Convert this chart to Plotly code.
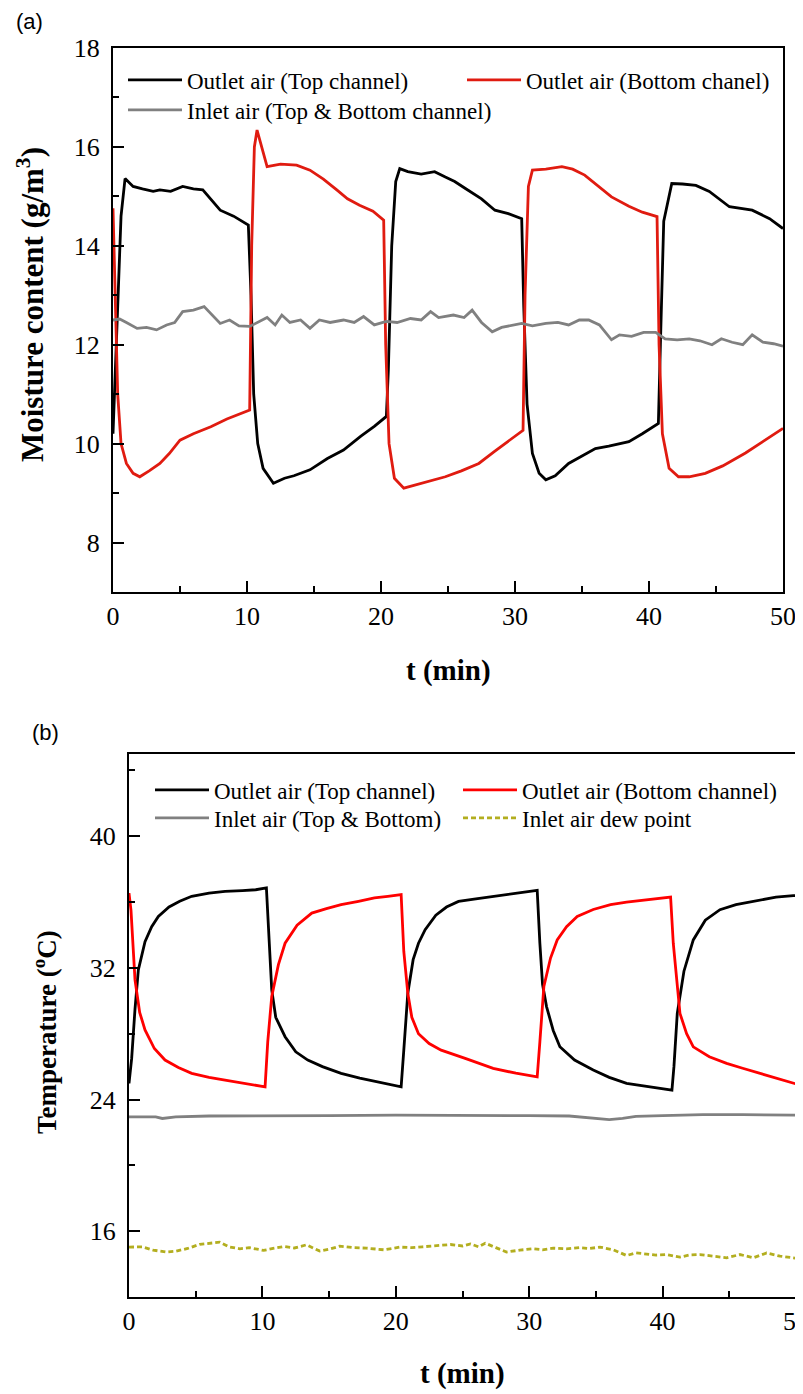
import plotly.graph_objects as go

# ---------------- Panel (a): moisture content ----------------
t_top_a = [0, 0.3, 0.6, 0.9, 1.5, 2.2, 3, 3.5, 4.3, 5.2, 6, 6.7, 7.3, 8, 9, 10.1,
           10.3, 10.5, 10.8, 11.2, 11.97, 12.8, 13.5, 14.7, 16, 17.2, 18.5, 19.5, 20.4,
           20.55, 20.8, 21.1, 21.4, 22, 23, 24, 24.8, 25.5, 26.3, 27.5, 28.5, 29.5, 30.5,
           30.65, 30.9, 31.3, 31.8, 32.3, 33, 34, 35, 36, 37, 38.5, 39.5, 40.7,
           40.85, 41.1, 41.7, 42.5, 43.5, 44.5, 46, 47, 47.7, 49, 50]
mc_top = [10.2, 12.5, 14.6, 15.36, 15.2, 15.15, 15.1, 15.13, 15.1, 15.2, 15.15, 15.13, 14.95, 14.72, 14.6, 14.42,
          13.0, 11.0, 10.0, 9.5, 9.2, 9.3, 9.35, 9.47, 9.7, 9.87, 10.15, 10.35, 10.55,
          11.5, 14.0, 15.3, 15.56, 15.5, 15.45, 15.5, 15.39, 15.3, 15.16, 14.95, 14.72, 14.65, 14.55,
          12.8, 10.8, 9.8, 9.4, 9.27, 9.35, 9.6, 9.75, 9.9, 9.95, 10.04, 10.2, 10.41,
          12.0, 14.5, 15.26, 15.25, 15.22, 15.1, 14.79, 14.75, 14.72, 14.55, 14.35]

t_bot_a = [0, 0.15, 0.35, 0.6, 1.0, 1.5, 2.0, 2.7, 3.5, 4.2, 5, 6, 7.3, 8.5, 10.2,
           10.35, 10.55, 10.75, 11.0, 11.5, 12.5, 13.7, 14.7, 15.7, 16.7, 17.5, 18.4, 19.4, 20.2,
           20.35, 20.6, 21.0, 21.7, 23, 24.8, 26, 27.3, 28.5, 29.8, 30.6,
           30.75, 31.0, 31.3, 32.3, 33.5, 34.3, 35.2, 36.2, 37.2, 38.5, 39.5, 40.6,
           40.75, 41.0, 41.5, 42.2, 43, 44.2, 45.5, 47.2, 48.5, 50]
mc_bot = [14.76, 13.0, 11.0, 10.0, 9.6, 9.4, 9.33, 9.45, 9.6, 9.8, 10.07, 10.2, 10.34, 10.5, 10.68,
          14.0, 16.0, 16.34, 16.1, 15.6, 15.65, 15.63, 15.53, 15.35, 15.13, 14.95, 14.82, 14.7, 14.52,
          12.0, 10.0, 9.3, 9.1, 9.2, 9.33, 9.45, 9.6, 9.85, 10.1, 10.27,
          13.0, 15.2, 15.53, 15.55, 15.6, 15.55, 15.43, 15.2, 14.99, 14.8, 14.68, 14.59,
          12.0, 10.2, 9.5, 9.33, 9.33, 9.4, 9.55, 9.81, 10.05, 10.31]

t_in_a = [0, 0.5, 1, 1.8, 2.5, 3.25, 4, 4.6, 5.2, 6, 6.8, 7.4, 8, 8.7, 9.4, 10.2, 10.8, 11.5, 12.1,
          12.6, 13.2, 14, 14.7, 15.4, 16.2, 17.2, 18, 18.7, 19.5, 20.4, 21.2, 22.2, 23, 23.7, 24.3,
          25.4, 26.2, 26.8, 27.5, 28.3, 29, 29.8, 30.5, 31.3, 32.3, 33.2, 34, 34.8, 35.5, 36.3, 37.2,
          37.8, 38.7, 39.6, 40.5, 41.2, 42.1, 43, 43.8, 44.7, 45.4, 46.2, 47, 47.7, 48.5, 49.3, 50]
mc_in = [12.5, 12.52, 12.45, 12.33, 12.35, 12.3, 12.4, 12.45, 12.67, 12.7, 12.77, 12.6, 12.43, 12.5, 12.38,
         12.37, 12.45, 12.55, 12.4, 12.6, 12.45, 12.5, 12.33, 12.5, 12.45, 12.5, 12.45, 12.57, 12.4, 12.47,
         12.45, 12.53, 12.5, 12.67, 12.55, 12.6, 12.55, 12.7, 12.45, 12.26, 12.35, 12.4, 12.43, 12.38, 12.43,
         12.45, 12.4, 12.5, 12.5, 12.4, 12.1, 12.2, 12.17, 12.25, 12.25, 12.12, 12.1, 12.12, 12.08, 12.0,
         12.12, 12.05, 12.0, 12.2, 12.05, 12.02, 11.97]

# ---------------- Panel (b): temperature ----------------
t_top_b = [0, 0.2, 0.45, 0.7, 1.2, 1.7, 2.2, 3, 3.8, 4.7, 6, 7.2, 8.5, 9.5, 10.3,
           10.5, 10.7, 11.0, 11.7, 12.5, 13.4, 14.5, 15.9, 17.3, 18.7, 19.6, 20.4,
           20.6, 20.9, 21.3, 21.7, 22.2, 23, 23.8, 24.7, 26, 27.3, 28.5, 29.5, 30.6,
           30.8, 31.0, 31.3, 31.8, 32.3, 33.4, 34.8, 36, 37.3, 38.8, 40.7,
           40.85, 41.1, 41.6, 42.3, 43.2, 44.3, 45.5, 47.3, 48.5, 49.8, 50]
temp_top = [24.98, 26.5, 29.5, 31.88, 33.6, 34.5, 35.13, 35.7, 36.05, 36.35, 36.55, 36.65, 36.7, 36.75, 36.86,
            33.5, 30.66, 29.0, 27.82, 26.9, 26.4, 26.0, 25.59, 25.3, 25.08, 24.9, 24.77,
            27.0, 30.46, 32.5, 33.5, 34.32, 35.2, 35.7, 36.04, 36.2, 36.35, 36.5, 36.6, 36.71,
            33.5, 31.0, 29.65, 28.2, 27.21, 26.4, 25.79, 25.35, 24.98, 24.8, 24.57,
            26.0, 29.24, 31.8, 33.7, 34.9, 35.54, 35.85, 36.14, 36.3, 36.39, 36.4]

t_bot_b = [0, 0.15, 0.45, 0.8, 1.2, 1.9, 2.7, 3.7, 4.7, 6, 7.2, 8.7, 10.2,
           10.4, 10.7, 11.2, 11.7, 12.6, 13.7, 14.8, 15.9, 17.2, 18.4, 19.4, 20.4,
           20.6, 20.9, 21.2, 21.7, 22.5, 23.4, 25.2, 26.2, 27.3, 29, 30.6,
           30.8, 31.1, 31.6, 32.1, 32.8, 33.6, 34.8, 36.1, 37.3, 38.6, 40.6,
           40.8, 41.3, 41.8, 42.3, 43.5, 44.8, 46, 47.3, 48.6, 49.9, 50]
temp_bot = [36.55, 35.5, 31.27, 29.3, 28.23, 27.1, 26.4, 25.95, 25.59, 25.35, 25.18, 24.97, 24.77,
            27.5, 30.26, 32.2, 33.5, 34.6, 35.33, 35.6, 35.84, 36.05, 36.25, 36.35, 36.45,
            33.0, 30.46, 29.0, 28.0, 27.4, 27.0, 26.5, 26.2, 25.9, 25.6, 25.38,
            27.5, 30.87, 32.6, 33.7, 34.5, 35.13, 35.55, 35.84, 36.0, 36.14, 36.31,
            33.5, 29.24, 28.0, 27.2, 26.6, 26.2, 25.9, 25.59, 25.28, 24.98, 24.95]

t_in_b = [0, 2, 2.5, 3.5, 6, 10, 15, 20, 25, 30, 33, 35, 36, 37, 38, 40, 43, 46, 50]
temp_in = [22.95, 22.95, 22.85, 22.95, 23.0, 23.0, 23.02, 23.05, 23.05, 23.02, 23.0, 22.88, 22.78,
           22.85, 22.98, 23.02, 23.08, 23.08, 23.05]

t_dew = [0, 1, 1.8, 2.8, 3.5, 4.4, 5.3, 6.8, 7.5, 8.3, 9, 10.1, 10.8, 11.6, 12.4, 13.3, 14.3, 15, 15.8,
         16.8, 17.8, 19.1, 20.3, 21.2, 22, 23, 24.1, 25, 25.6, 26.2, 26.7, 27.5, 28.3, 29.3, 30.3, 31,
         31.8, 32.8, 33.8, 34.5, 35.3, 36.3, 37.3, 38, 38.8, 39.5, 40.3, 41.3, 42, 42.8, 43.8, 44.8,
         45.8, 46.8, 47.8, 48.8, 49.8, 50]
temp_dew = [15.03, 15.05, 14.85, 14.73, 14.78, 14.95, 15.2, 15.33, 15.05, 14.93, 15.0, 14.83, 14.95, 15.07,
            14.98, 15.17, 14.79, 14.9, 15.09, 15.0, 14.97, 14.87, 15.03, 15.0, 15.05, 15.1, 15.19, 15.1,
            15.23, 15.05, 15.27, 15.0, 14.73, 14.85, 14.93, 14.87, 14.97, 14.93, 15.0, 14.95, 15.03, 14.87,
            14.52, 14.68, 14.62, 14.55, 14.58, 14.42, 14.55, 14.58, 14.48, 14.38, 14.58, 14.38, 14.68,
            14.48, 14.38, 14.35]

x_ticks = [0, 10, 20, 30, 40, 50]
y_ticks_a = [8, 10, 12, 14, 16, 18]
y_ticks_b = [16, 24, 32, 40]

# The page body adds an 8px offset; the figure is sized so that it exactly fills the window.
OFF = 8
W, H = 795, 1386


def px(sx):
    return (sx - OFF) / W


def py(sy):
    return 1 - (sy - OFF) / H


SERIF = "Liberation Serif, Times New Roman, serif"
LEG_FONT = dict(family=SERIF, size=23, color="black")

fig = go.Figure()
traces = [
    (t_top_a, mc_top, "Outlet air (Top channel)", dict(color="black", width=2.8), "x", "y", "legend"),
    (t_bot_a, mc_bot, "Outlet air (Bottom chanel)", dict(color="#E01B10", width=2.8), "x", "y", "legend2"),
    (t_in_a, mc_in, "Inlet air (Top & Bottom channel)", dict(color="#808080", width=2.8), "x", "y", "legend3"),
    (t_top_b, temp_top, "Outlet air (Top channel)", dict(color="black", width=2.8), "x2", "y2", "legend4"),
    (t_bot_b, temp_bot, "Outlet air (Bottom channel)", dict(color="#FF0000", width=2.8), "x2", "y2", "legend5"),
    (t_in_b, temp_in, "Inlet air (Top & Bottom)", dict(color="#808080", width=2.8), "x2", "y2", "legend6"),
    (t_dew, temp_dew, "Inlet air dew point", dict(color="#B3AE1F", width=2.8, dash="5px,3px"), "x2", "y2", "legend7"),
]
for tx, vy, nm, ln, xa, ya, lg in traces:
    fig.add_trace(go.Scatter(x=tx, y=vy, mode="lines", name=nm, line=ln, xaxis=xa, yaxis=ya, legend=lg))

axis_common = dict(showline=True, linecolor="black", linewidth=2, mirror=True,
                   ticks="inside", ticklen=11, tickwidth=2, tickcolor="black",
                   showgrid=False, zeroline=False, automargin=False, ticklabeloverflow="allow",
                   tickfont=dict(family=SERIF, size=26, color="black"))
minor_common = dict(ticks="inside", ticklen=6, tickwidth=2, tickcolor="black")

# legend entry positions (line start x px, row centre y px)
leg_pos = [(128, 80), (467, 80), (128, 110), (155, 790), (463, 790), (155, 818), (463, 818)]
legends = {}
for i, (lx, ly) in enumerate(leg_pos):
    key = "legend" if i == 0 else f"legend{i + 1}"
    legends[key] = dict(x=px(lx - 5), y=py(ly), xanchor="left", yanchor="middle",
                        bgcolor="rgba(0,0,0,0)", font=LEG_FONT, itemwidth=54, borderwidth=0)

fig.update_layout(
    width=W, height=H,
    margin=dict(l=0, r=0, t=0, b=0, pad=0),
    paper_bgcolor="white", plot_bgcolor="white",
    xaxis=dict(domain=[px(113), px(783)], anchor="y", range=[0, 50], tickvals=x_ticks,
               minor=dict(dtick=5, **minor_common), ticklabelstandoff=0, **axis_common),
    yaxis=dict(domain=[py(592), py(48)], anchor="x", range=[7, 18], tickvals=y_ticks_a,
               minor=dict(dtick=1, **minor_common), ticklabelstandoff=6, **axis_common),
    xaxis2=dict(domain=[px(129), px(796)], anchor="y2", range=[0, 50], tickvals=x_ticks,
                minor=dict(dtick=5, **minor_common), ticklabelstandoff=0, **axis_common),
    yaxis2=dict(domain=[py(1297), py(754)], anchor="x2", range=[12, 45], tickvals=y_ticks_b,
                minor=dict(dtick=4, **minor_common), ticklabelstandoff=6, **axis_common),
    showlegend=True,
    **legends,
)

label_font = dict(family="Liberation Sans, Arial, sans-serif", size=22, color="black")
annotations = [
    dict(text="(a)", x=px(29), y=py(22), font=label_font),
    dict(text="(b)", x=px(45), y=py(732), font=label_font),
    dict(text="<b>Moisture content (g/m<sup>3</sup>)</b>", x=px(30), y=py(305), textangle=-90,
         font=dict(family=SERIF, size=31, color="black")),
    dict(text="<b>t (min)</b>", x=px(448), y=py(670), font=dict(family=SERIF, size=29, color="black")),
    dict(text="<b>Temperature (<sup>o</sup>C)</b>", x=px(45), y=py(1032), textangle=-90,
         font=dict(family=SERIF, size=27, color="black")),
    dict(text="<b>t (min)</b>", x=px(462), y=py(1373), font=dict(family=SERIF, size=29, color="black")),
]
for a in annotations:
    a.update(xref="paper", yref="paper", showarrow=False, xanchor="center", yanchor="middle")
fig.update_layout(annotations=annotations)

fig.write_html("out.html")
